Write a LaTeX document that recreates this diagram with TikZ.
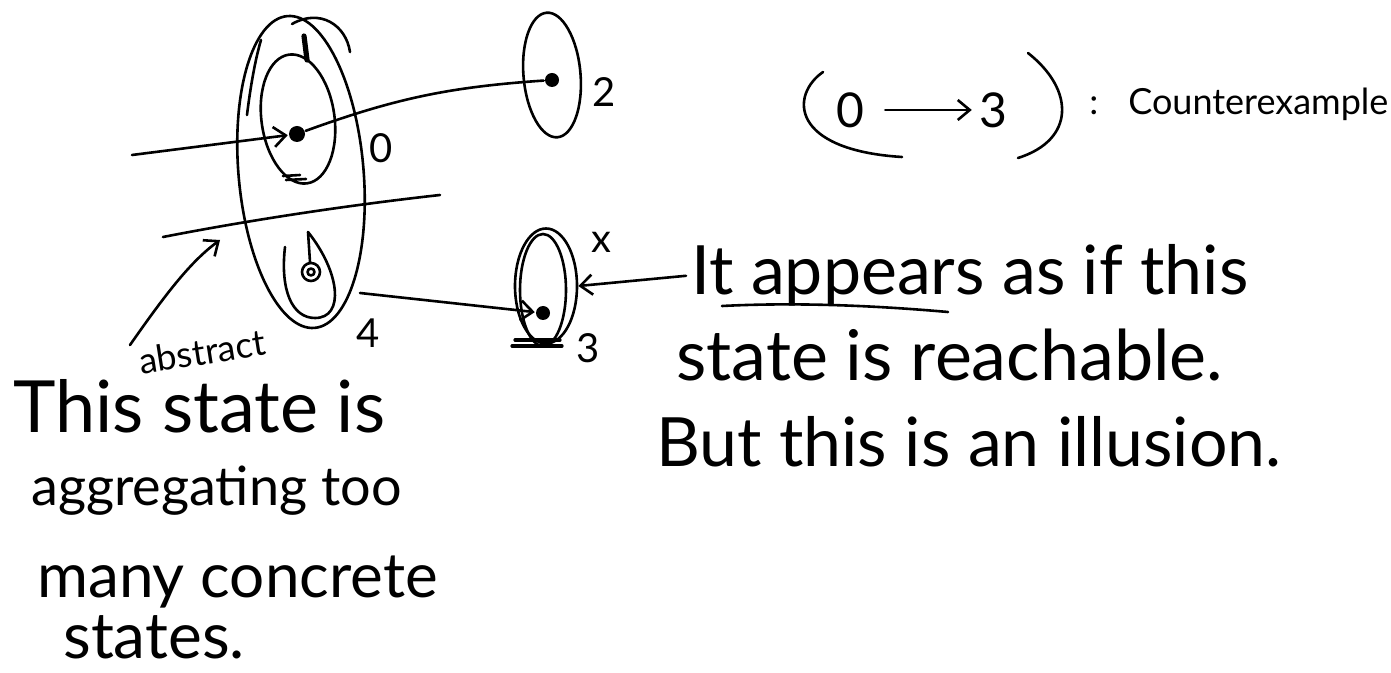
\documentclass[tikz,border=0pt]{standalone}
\usepackage{fontspec}
\setmainfont{Lato}
\usetikzlibrary{shapes.geometric,arrows.meta}
\begin{document}
\begin{tikzpicture}[x=0.5pt,y=-0.5pt, line width=1.3pt, line cap=round, line join=round,
  st/.style={draw, ellipse, inner sep=0pt},
  dotf/.style={circle, fill, inner sep=0pt, minimum size=#1},
  arr/.style={-{Straight Barb[length=6pt,width=10pt]}},
  hand/.style={inner sep=0pt, anchor=base west, font=\fontsize{#1}{#1}\selectfont},
  lab/.style={inner sep=0pt, font=\fontsize{20}{22}\selectfont},
]
\useasboundingbox (0,0) rectangle (1391,673);

% abstract state 0/4
\node[st, minimum width=62.5pt, minimum height=156.5pt, rotate=5] (A) at (301,172) {};
\draw (292,24) .. controls (320,8) and (346,25) .. (350,52);
\draw (261,40) .. controls (255,60) and (250,90) .. (247,115);
\draw[line width=2.6pt] (304,36) -- (307,60);
\node[st, minimum width=36.5pt, minimum height=65pt, rotate=8] (U) at (298,119) {};
\node[dotf=8pt] (d0) at (297,134) {};
\draw (283,176) -- (300,175);
\draw (286,180) -- (306,179);
\coordinate (sepL) at (163,237);
\coordinate (sepR) at (440,195);
\draw (sepL) .. controls (250,220) and (350,205) .. (sepR);
\draw (285,247) .. controls (280,290) and (292,318) .. (315,318) .. controls (345,318) and (340,272) .. (308,232) -- (310,262);
\node[circle, draw, minimum size=9pt, inner sep=0pt] (d4) at (311,272) {};
\node[circle, draw, minimum size=3.5pt, inner sep=0pt] at (d4) {};

% state 2
\node[st, minimum width=28.5pt, minimum height=62.5pt, rotate=5] (N2) at (552,75) {};
\node[dotf=7pt] (d2) at (552,80) {};

% state 3
\node[st, minimum width=31pt, minimum height=57.5pt] (N3) at (546,286) {};
\draw (543,290) ellipse [x radius=23, y radius=56];
\node[dotf=7pt] (d3) at (543,313) {};
\draw[line width=1.6pt] (515,340) -- (560,340);
\draw[line width=1.6pt] (512,346) -- (562,346);

% labels
\node[lab] (l0) at (381,148) {0};
\node[lab] (l2) at (604,92) {2};
\node[lab] (l4) at (368,333) {4};
\node[lab] (l3) at (588,348) {3};
\node[lab] (lx) at (601,242) {x};

% connectors
\coordinate (inS) at (132,155);
\draw[arr] (inS) -- (d0);
\draw (d0) to[bend left=8] (d2);
\coordinate (a4src) at (360,293);
\draw[arr] (a4src) -- (d3);

% left text
\node[hand=18, rotate=9] (abs) at (140,375) {abstract};
\node[hand=36] (t1) at (12,432) {This state is};
\node[hand=27] (t2) at (30,505) {aggregating too};
\node[hand=31] (t3) at (36,597) {many concrete};
\node[hand=32] (t4) at (62,658) {states.};
\coordinate (cS) at (130,345);
\coordinate (cE) at (220,240);
\draw[arr] (cS) .. controls (165,295) and (190,262) .. (cE);

% right text
\node[hand=34] (r1) at (690,295) {It appears as if this};
\node[hand=35] (r2) at (675,380) {state is reachable.};
\node[hand=34] (r3) at (655,466) {But this is an illusion.};
\draw[arr] ([xshift=-2pt]r1.west) -- (N3.east);
\draw (722,306) .. controls (800,302) and (880,306) .. (948,312);

% counterexample
\node[lab, font=\fontsize{24}{26}\selectfont] (c0) at (850,110) {0};
\node[lab, font=\fontsize{24}{26}\selectfont] (c3) at (993,110) {3};
\draw[arr, shorten <=10pt, shorten >=3pt] (c0) -- (c3);
\draw (823,72) .. controls (790,95) and (790,150) .. (902,157);
\draw (1028,53) .. controls (1075,90) and (1075,140) .. (1018,158);
\node[hand=18] (colon) at (1088,115) {:};
\node[hand=18] (ce) at (1127,115) {Counterexample};
\end{tikzpicture}
\end{document}
